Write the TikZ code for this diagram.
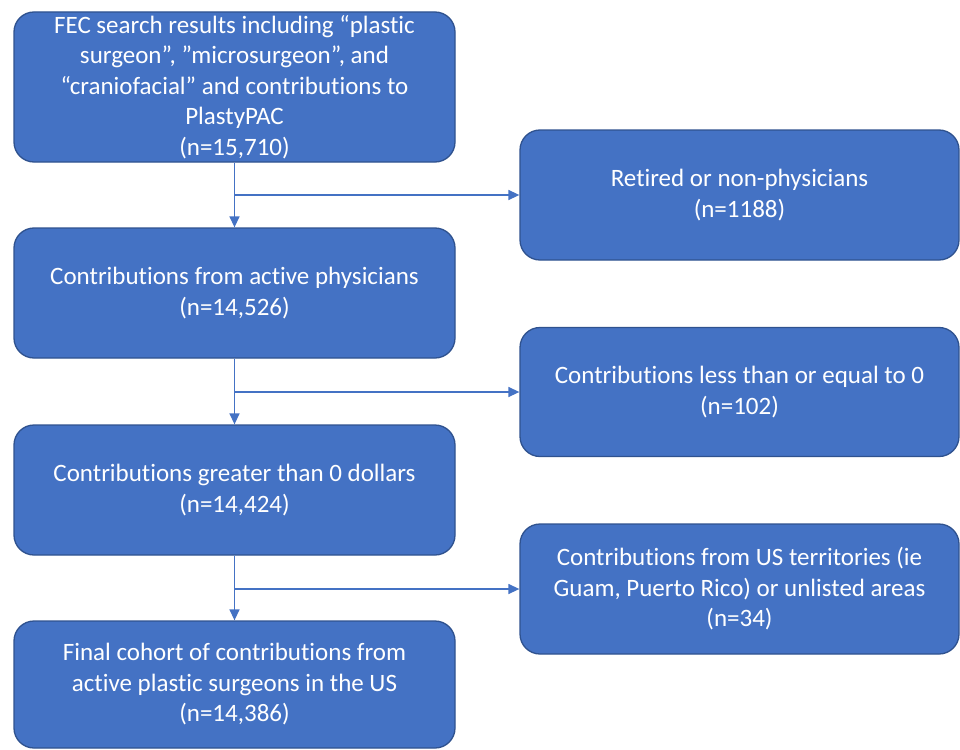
\documentclass[tikz,border=0pt]{standalone}
\usepackage{fontspec}
\setmainfont[Ligatures=NoCommon]{Carlito}
\usetikzlibrary{arrows.meta}
\definecolor{boxblue}{HTML}{4472C4}
\definecolor{boxline}{HTML}{2F528F}
\tikzset{
	stepbox/.style={draw=boxline, line width=1.3pt, fill=boxblue, rounded corners=20pt,
		text=white, align=center, minimum width=441pt,
		inner sep=0pt, font=\fontsize{25}{30.5}\selectfont},
	arr/.style={draw=boxblue, line width=1.4pt, -{Triangle[length=11pt,width=10pt]}}
}
\begin{document}
\begin{tikzpicture}[x=1pt,y=-1pt]
\useasboundingbox (0,0) rectangle (960,749);
% main column
\node[stepbox, minimum height=150pt] (search) at (234.5,87) {FEC search results including “plastic\\surgeon”, ”microsurgeon”, and\\“craniofacial” and contributions to\\PlastyPAC\\(n=15,710)};
\node[stepbox, minimum height=130pt] (active) at (234.5,293) {Contributions from active physicians\\(n=14,526)};
\node[stepbox, minimum height=130pt] (positive) at (234.5,490) {Contributions greater than 0 dollars\\(n=14,424)};
\node[stepbox, minimum height=127pt] (final) at (234.5,684.5) {Final cohort of contributions from\\active plastic surgeons in the US\\(n=14,386)};
% exclusions
\node[stepbox, minimum width=439pt, minimum height=130pt] (retired) at (739.5,195) {Retired or non-physicians\\(n=1188)};
\node[stepbox, minimum width=439pt, minimum height=129pt] (zero) at (739.5,392) {Contributions less than or equal to 0\\(n=102)};
\node[stepbox, minimum width=439pt, minimum height=130pt] (territory) at (739.5,589) {Contributions from US territories (ie\\Guam, Puerto Rico) or unlisted areas\\(n=34)};
% connectors
\draw[arr] (search) -- (active);
\draw[arr] (active) -- (positive);
\draw[arr] (positive) -- (final);
\draw[arr] (search.south |- retired.west) -- (retired.west);
\draw[arr] (active.south |- zero.west) -- (zero.west);
\draw[arr] (positive.south |- territory.west) -- (territory.west);
\end{tikzpicture}
\end{document}
